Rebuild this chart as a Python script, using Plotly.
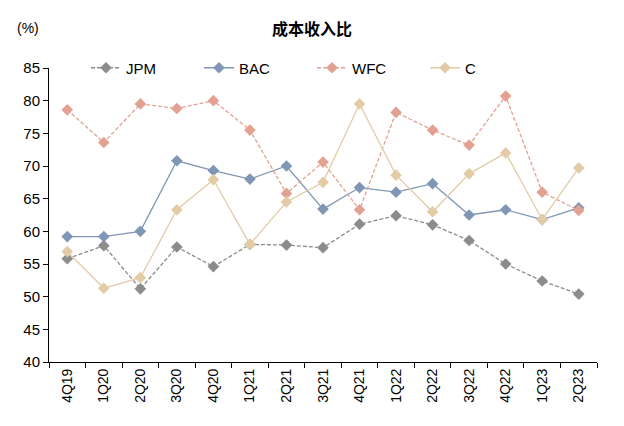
import plotly.graph_objects as go

quarters = ["4Q19", "1Q20", "2Q20", "3Q20", "4Q20", "1Q21", "2Q21", "3Q21",
            "4Q21", "1Q22", "2Q22", "3Q22", "4Q22", "1Q23", "2Q23"]
jpm = [55.8, 57.8, 51.2, 57.6, 54.6, 58.0, 57.9, 57.5, 61.1, 62.4, 61.0, 58.6, 55.0, 52.4, 50.4]
bac = [59.2, 59.2, 60.0, 70.8, 69.3, 68.0, 70.0, 63.4, 66.7, 66.0, 67.3, 62.5, 63.3, 61.8, 63.6]
wfc = [78.6, 73.6, 79.5, 78.8, 80.0, 75.5, 65.8, 70.6, 63.3, 78.2, 75.5, 73.2, 80.7, 66.0, 63.2]
citi = [56.9, 51.3, 52.9, 63.3, 67.9, 58.0, 64.5, 67.5, 79.5, 68.6, 63.0, 68.8, 72.0, 61.8, 69.7]
y_ticks = [40, 45, 50, 55, 60, 65, 70, 75, 80, 85]

series = [
    ("JPM", jpm, "#8c8c8c", "4px,2px"),
    ("BAC", bac, "#7f96b4", "solid"),
    ("WFC", wfc, "#e2a291", "4px,2px"),
    ("C", citi, "#e3cba6", "solid"),
]

fig = go.Figure()
for name, vals, color, dash in series:
    fig.add_trace(go.Scatter(
        x=quarters, y=vals, name=name, mode="lines+markers",
        line=dict(color=color, width=1.3, dash=dash),
        marker=dict(symbol="diamond", size=9, color=color),
    ))

# page body has an 8px offset; compensate so the plot area spans x 49..597, y 68..362
OFF = 8
W, H = 624 - OFF, 426 - OFF
L, R, T, B = 49 - OFF, 27, 68 - OFF, 64
pw = W - L - R
ph = H - T - B

def px_x(x):
    return (x - OFF - L) / pw

def px_y(y):
    return 1 + (T - (y - OFF)) / ph

fig.update_layout(
    width=W, height=H,
    margin=dict(l=L, r=R, t=T, b=B, autoexpand=False),
    paper_bgcolor="white", plot_bgcolor="white",
    font=dict(family="Liberation Sans, Arial, sans-serif", size=14, color="#000"),
    showlegend=True,
    legend=dict(orientation="h", x=px_x(86), y=1.0, xanchor="left", yanchor="middle",
                entrywidth=68, entrywidthmode="pixels",
                font=dict(size=15), bgcolor="rgba(0,0,0,0)"),
    annotations=[
        dict(text="<b>成本收入比</b>", x=px_x(312), y=px_y(28),
             xref="paper", yref="paper", xanchor="center", yanchor="middle",
             showarrow=False, font=dict(family="Noto Sans CJK SC", size=16)),
        dict(text="(%)", x=px_x(28), y=px_y(28),
             xref="paper", yref="paper", xanchor="center", yanchor="middle",
             showarrow=False, font=dict(size=14)),
    ],
)

fig.update_xaxes(
    type="category", showgrid=False, showline=True, linecolor="#000", linewidth=1,
    ticks="outside", ticklen=5, tickcolor="#000", tickson="boundaries",
    tickangle=-90, tickfont=dict(size=14), automargin=False,
    range=[-0.5, len(quarters) - 0.5],
)
fig.update_yaxes(
    range=[40, 85], tickvals=y_ticks, showgrid=False, showline=True,
    linecolor="#000", linewidth=1, ticks="outside", ticklen=5, tickcolor="#000",
    tickfont=dict(size=15), zeroline=False, automargin=False,
)

fig.write_html("out.html")
